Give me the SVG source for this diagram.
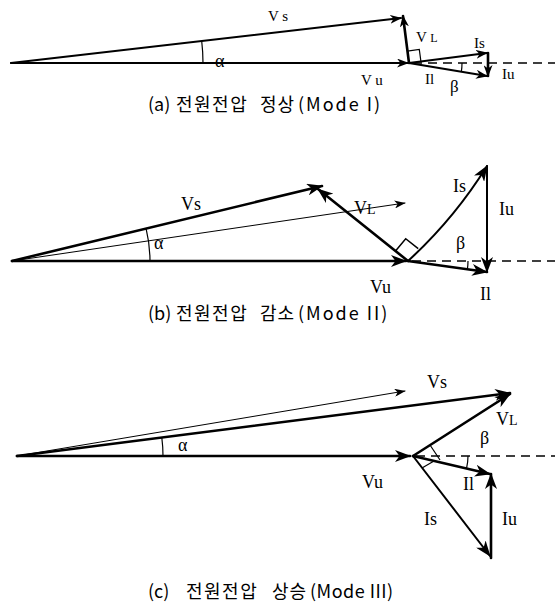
<svg xmlns="http://www.w3.org/2000/svg" width="555" height="612" viewBox="0 0 555 612">
<style>
.v{stroke:#000;fill:none;stroke-linecap:round}
.thk{stroke-width:2.6}
.med{stroke-width:2}
.thin{stroke-width:1}
.dash{stroke:#000;stroke-width:1.5;stroke-dasharray:9 6;fill:none}
.arc{stroke:#000;stroke-width:1.2;fill:none}
.lb{font-family:"Liberation Serif","DejaVu Serif",serif;fill:#000}
.cap{font-family:"Noto Sans CJK KR","Noto Sans",sans-serif;font-size:18px;fill:#000}
</style>
<defs>
<marker id="ah" viewBox="0 0 16 12" refX="15" refY="6" markerWidth="16" markerHeight="12" markerUnits="userSpaceOnUse" orient="auto"><path d="M0,0 L16,6 L0,12 L4.5,6 z" fill="#000"/></marker>
<marker id="as" viewBox="0 0 12 9" refX="11" refY="4.5" markerWidth="12" markerHeight="9" markerUnits="userSpaceOnUse" orient="auto"><path d="M0,0 L12,4.5 L0,9 L3.5,4.5 z" fill="#000"/></marker>
<marker id="at" viewBox="0 0 11 8" refX="10.5" refY="4" markerWidth="11" markerHeight="8" markerUnits="userSpaceOnUse" orient="auto"><path d="M0,0 L11,4 L0,8 L3,4 z" fill="#000"/></marker>
</defs>

<g id="connectors">
<g id="conn-a">
<line class="v med" x1="11" y1="63" x2="408" y2="63" marker-end="url(#as)"/>
<line class="v med" x1="11" y1="63" x2="401" y2="18" marker-end="url(#as)"/>
<line class="v thk" x1="409" y1="63" x2="403" y2="16" marker-end="url(#as)"/>
<line class="v med" x1="409" y1="63" x2="487" y2="53" marker-end="url(#as)"/>
<line class="v med" x1="409" y1="63" x2="487" y2="76" marker-end="url(#as)"/>
<line class="v thk" x1="488" y1="53" x2="488" y2="76" marker-end="url(#as)"/>
<line class="dash" x1="413" y1="63" x2="555" y2="63"/>
<polyline class="arc" points="407.4,51.1 419.3,49.5 420.9,61.4"/>
<path class="arc" d="M203,63 A192,192 0 0 0 201.7,41"/>
<path class="arc" d="M462,63 A53,53 0 0 1 461.3,72"/>
</g>
<g id="conn-b" transform="translate(0,3)">
<line class="v thk" x1="12" y1="258" x2="406" y2="258" marker-end="url(#ah)"/>
<line class="v thk" x1="12" y1="258" x2="322" y2="183" marker-end="url(#ah)"/>
<line class="v thin" x1="12" y1="258" x2="405" y2="200" marker-end="url(#at)"/>
<line class="v thk" x1="408" y1="258" x2="318" y2="186" marker-end="url(#ah)"/>
<path class="v med" d="M408,258 Q454,216 487,163" marker-end="url(#ah)"/>
<line class="v med" x1="487" y1="163" x2="487" y2="269" marker-end="url(#ah)"/>
<line class="v thk" x1="408" y1="258" x2="487" y2="269" marker-end="url(#ah)"/>
<line class="dash" x1="412" y1="258" x2="555" y2="258"/>
<polyline class="arc" points="395.5,248 405.7,235.7 418.2,245.7" style="stroke-width:1.5"/>
<path class="arc" d="M150,258 A138,138 0 0 0 146.1,225.6"/>
<path class="arc" d="M468,258 A60,60 0 0 1 467.4,266.3"/>
</g>
<g id="conn-c" transform="translate(0,4)">
<line class="v thk" x1="17" y1="452" x2="410" y2="452" marker-end="url(#ah)"/>
<line class="v thin" x1="17" y1="452" x2="405" y2="387" marker-end="url(#at)"/>
<line class="v thk" x1="17" y1="452" x2="510" y2="389" marker-end="url(#ah)"/>
<line class="v thk" x1="413" y1="452" x2="510" y2="390" marker-end="url(#ah)"/>
<line class="v thk" x1="413" y1="452" x2="490" y2="470" marker-end="url(#ah)"/>
<line class="v thk" x1="491" y1="554" x2="491" y2="470" marker-end="url(#ah)"/>
<line class="v med" x1="413" y1="452" x2="490" y2="552" marker-end="url(#ah)"/>
<line class="dash" x1="416" y1="452" x2="555" y2="452"/>
<line class="arc" x1="430" y1="441" x2="440" y2="456"/>
<line class="arc" x1="422" y1="464" x2="434" y2="457"/>
<path class="arc" d="M163,452 A146,146 0 0 0 161.8,433.5"/>
<path class="arc" d="M468,452 A55,55 0 0 1 466.5,464.6"/>
</g>
</g>

<g id="labels-a" class="lb" font-size="15">
<text x="268" y="21">V s</text>
<text x="215" y="67" font-size="18">α</text>
<text x="416" y="42">V <tspan font-size="12">L</tspan></text>
<text x="474" y="48">Is</text>
<text x="425" y="84">Il</text>
<text x="450" y="92" font-size="17">β</text>
<text x="502" y="79">Iu</text>
<text x="361" y="85">V u</text>
</g>

<g id="labels-b" class="lb" font-size="18" transform="translate(0,3)">
<text x="181" y="207">Vs</text>
<text x="154" y="246">α</text>
<text x="354" y="211">V<tspan font-size="14">L</tspan></text>
<text x="453" y="189">Is</text>
<text x="499" y="212">Iu</text>
<text x="456" y="246">β</text>
<text x="370" y="290">Vu</text>
<text x="480" y="297">Il</text>
</g>

<g id="labels-c" class="lb" font-size="18" transform="translate(0,4)">
<text x="427" y="384">Vs</text>
<text x="178" y="447">α</text>
<text x="496" y="421">V<tspan font-size="14">L</tspan></text>
<text x="480" y="440">β</text>
<text x="362" y="484">Vu</text>
<text x="463" y="486">Il</text>
<text x="424" y="521">Is</text>
<text x="502" y="521">Iu</text>
</g>

<g id="captions" class="cap">
<text y="111"><tspan x="148">(a)</tspan><tspan x="176" letter-spacing="1.5">전원전압</tspan><tspan x="260" letter-spacing="1">정상</tspan><tspan x="298" letter-spacing="2">(Mode I)</tspan></text>
<text y="320"><tspan x="148">(b)</tspan><tspan x="176" letter-spacing="1.5">전원전압</tspan><tspan x="260" letter-spacing="1">감소</tspan><tspan x="298" letter-spacing="2">(Mode II)</tspan></text>
<text y="598"><tspan x="148">(c)</tspan><tspan x="186" letter-spacing="1.5">전원전압</tspan><tspan x="272" letter-spacing="1">상승</tspan><tspan x="310" letter-spacing="0.5">(Mode III)</tspan></text>
</g>
</svg>
